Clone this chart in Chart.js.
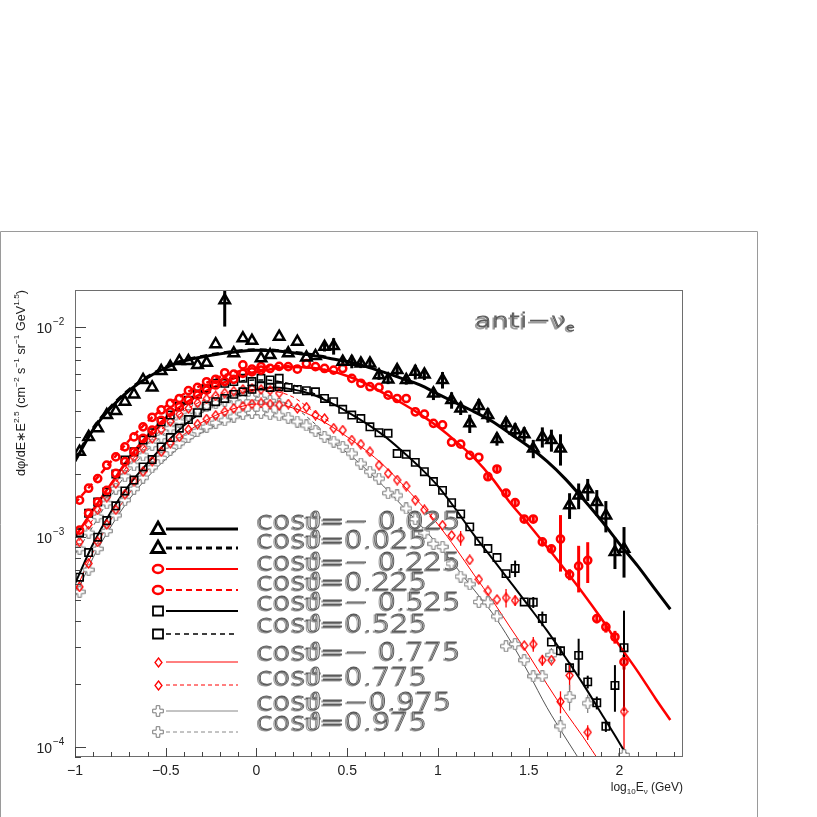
<!DOCTYPE html>
<html>
<head>
<meta charset="utf-8">
<title>anti-nu_e flux</title>
<script src="https://cdn.jsdelivr.net/npm/chart.js@4.4.1/dist/chart.umd.min.js"></script>
<style>
  html, body { margin: 0; padding: 0; background: #fff; }
  #wrap { width: 817px; height: 817px; position: relative; }
</style>
</head>
<body>
<div id="wrap"><canvas id="fluxChart"></canvas></div>
<script>
// bin centres, log10(E / GeV)
var binX = [-0.975, -0.925, -0.875, -0.825, -0.775, -0.725, -0.675, -0.625, -0.575, -0.525,
            -0.475, -0.425, -0.375, -0.325, -0.275, -0.225, -0.175, -0.125, -0.075, -0.025,
            0.025, 0.075, 0.125, 0.175, 0.225, 0.275, 0.325, 0.375, 0.425, 0.475,
            0.525, 0.575, 0.625, 0.675, 0.725, 0.775, 0.825, 0.875, 0.925, 0.975,
            1.025, 1.075, 1.125, 1.175, 1.225, 1.275, 1.325, 1.375, 1.425, 1.475,
            1.525, 1.575, 1.625, 1.675, 1.725, 1.775, 1.825, 1.875, 1.925, 1.975,
            2.025];

// dphi/dE * E^2.5 in units of 1e-3 (cm^-2 s^-1 sr^-1 GeV^1.5)
var triNeg = [2.55, 3.0, 3.3, 3.81, 3.98, 4.41, 4.78, 5.6, 5.16, 6.17,
              6.47, 6.89, 6.89, 6.6, 6.76, 8.28, 13.4, 7.5, 8.83, 8.6,
              7.1, 7.35, 9.0, 7.5, 8.51, 7.17, 7.27, 8.05, 8.12, 6.84,
              6.84, 6.71, 6.71, 5.9, 5.63, 6.24, 5.6, 6.12, 5.95, 4.83,
              5.6, 4.49, 4.1, 3.48, 4.21, 3.81, 2.93, 3.48, 3.23, 3.09,
              2.64, 3.0, 2.9, 2.64, 1.42, 1.58, 1.69, 1.47, 1.27, 0.85,
              0.88];
var triErr = [null, null, null, null, null, null, null, null, null, null,
              null, null, null, null, null, null, 0.25, null, null, null,
              null, null, null, null, null, null, null, 0.05, 0.09, 0.05,
              0.07, 0.05, 0.05, 0.05, 0.05, 0.06, 0.05, 0.08, 0.06, 0.07,
              0.09, 0.09, 0.07, 0.1, 0.08, 0.08, 0.07, 0.07, 0.08, 0.08,
              0.1, 0.11, 0.12, 0.17, 0.14, 0.14, 0.12, 0.14, 0.17, 0.17,
              0.27];

var circNeg = [1.08, 1.3, 1.47, 1.67, 2.01, 2.29, 2.55, 2.95, 3.23, 3.6,
               3.95, 4.17, 4.49, 4.74, 5.01, 5.3, 5.5, 5.64, 6.02, 6.12,
               6.24, 6.35, 6.5, 6.48, 6.3, 6.7, 6.48, 6.35, 6.24, 6.35,
               5.7, 5.4, 5.2, 5.16, 4.74, 4.57, 4.57, 3.95, 3.85, 3.48,
               3.42, 2.83, 2.77, 2.45, 2.4, 1.94, 2.11, 1.62, 1.46, 1.22,
               1.22, 0.95, 0.88, 0.98, 0.664, 0.728, 0.776, 0.41, 0.374, 0.335,
               0.255];
var circErr = [null, null, null, null, null, null, null, null, null, null,
               null, null, null, null, null, null, null, null, null, null,
               null, null, null, null, null, null, null, null, null, null,
               null, null, null, null, null, null, null, null, null, null,
               null, null, null, null, null, 0.04, 0.04, 0.04, 0.04, 0.04,
               0.04, 0.04, 0.04, 0.3, 0.06, 0.25, 0.22, 0.05, 0.06, 0.07,
               0.08];
var circPos = [1.5, 1.71, 1.9, 2.2, 2.41, 2.69, 3.0, 3.35, 3.72, 4.03,
               4.33, 4.57, 4.98, 5.16, 5.49, 5.64, 6.06, 5.97, 6.6, 6.3,
               6.48];

var sqNeg = [0.645, 0.845, 1.0, 1.2, 1.41, 1.66, 1.87, 2.16, 2.34, 2.69,
             2.98, 3.3, 3.63, 3.91, 4.21, 4.41, 4.57, 4.78, 4.92, 5.05,
             5.24, 5.16, 5.2, 5.16, 5.05, 4.98, 4.92, 4.57, 4.41, 4.06,
             3.81, 3.67, 3.35, 3.14, 3.12, 2.5, 2.48, 2.27, 2.05, 1.84,
             1.67, 1.46, 1.29, 1.12, 0.957, 0.883, 0.8, 0.671, 0.71, 0.492,
             0.49, 0.41, 0.317, 0.288, 0.239, 0.274, 0.205, 0.163, 0.126, 0.197,
             0.298];
var sqErr = [null, null, null, null, null, null, null, null, null, null,
             null, null, null, null, null, null, null, null, null, null,
             null, null, null, null, null, null, null, null, null, null,
             null, null, null, null, null, null, null, null, null, null,
             null, null, null, null, null, null, null, null, 0.09, null,
             0.06, 0.08, null, 0.05, 0.06, 0.2, 0.07, 0.07, 0.06, 0.25,
             0.5];
var sqPos = [1.05, 1.3, 1.47, 1.64, 2.0, 2.33, 2.55, 2.9, 3.14, 3.54,
             3.81, 4.21, 4.49, 4.8, 5.1, 5.4, 5.4, 5.5, 5.7, 5.5,
             5.7, 5.6, 5.7];

var dmNeg = [0.58, 0.75, 0.95, 1.15, 1.35, 1.6, 1.85, 2.05, 2.3, 2.55,
             2.8, 3.0, 3.25, 3.45, 3.65, 3.8, 3.95, 4.1, 4.2, 4.3,
             4.35, 4.3, 4.25, 4.3, 4.1, 4.15, 3.81, 3.67, 3.3, 3.23,
             2.9, 2.77, 2.55, 2.2, 2.01, 1.87, 1.75, 1.5, 1.35, 1.26,
             1.14, 1.02, 0.99, 0.78, 0.63, 0.555, 0.505, 0.515, 0.5, 0.305,
             0.31, 0.26, 0.26, 0.165, 0.22, null, 0.118, null, null, null,
             0.148];
var dmErr = [null, null, null, null, null, null, null, null, null, null,
             null, null, null, null, null, null, null, null, null, null,
             null, null, null, null, null, null, null, null, null, null,
             null, null, null, null, null, null, null, null, null, null,
             null, null, 0.08, null, null, null, null, 0.1, 0.06, null,
             0.08, 0.06, null, 0.12, 0.15, null, 0.08, null, null, null,
             0.8];
var dmPos = [0.95, 1.15, 1.35, 1.55, 1.8, 2.1, 2.4, 2.65, 2.95, 3.25,
             3.55, 3.85, 4.1, 4.35, 4.55, 4.7, 4.85, 4.95, 5.05, 5.1,
             5.05, 5.0, 4.85];

var crNeg = [0.55, 0.7, 0.88, 1.07, 1.27, 1.5, 1.7, 1.92, 2.15, 2.38,
             2.6, 2.8, 3.0, 3.2, 3.35, 3.5, 3.6, 3.75, 3.85, 3.9,
             3.9, 3.85, 3.8, 3.7, 3.55, 3.4, 3.2, 3.0, 2.85, 2.69,
             2.5, 2.24, 2.05, 1.9, 1.62, 1.58, 1.37, 1.22, 1.05, 0.93,
             0.9, 0.75, 0.65, 0.597, 0.492, 0.49, 0.42, 0.303, 0.31, 0.26,
             0.218, 0.218, 0.275, 0.126, 0.174, null, 0.162, null, null, null,
             0.092];
var crErr = [null, null, null, null, null, null, null, null, null, null,
             null, null, null, null, null, null, null, null, null, null,
             null, null, null, null, null, null, null, null, null, null,
             null, null, null, null, null, null, null, null, null, null,
             null, null, null, null, null, null, null, null, null, null,
             null, 0.05, 0.08, 0.12, 0.14, null, 0.1, null, null, null,
             null];
var crPos = [0.88, 1.05, 1.25, 1.45, 1.7, 1.95, 2.2, 2.45, 2.75, 3.0,
             3.3, 3.55, 3.8, 4.0, 4.2, 4.35, 4.45, 4.55, 4.6, 4.6,
             4.55, 4.45, 4.3];

// fitted curves, same units
var fitX = [-1.0, -0.9, -0.8, -0.7, -0.6, -0.5, -0.4, -0.3, -0.2, -0.1,
            0.0, 0.1, 0.2, 0.3, 0.4, 0.5, 0.6, 0.7, 0.8, 0.9,
            1.0, 1.1, 1.2, 1.3, 1.4, 1.5, 1.6, 1.7, 1.8, 1.9,
            2.0, 2.1, 2.2, 2.28];
var fitTriNeg = [2.3, 3.25, 4.15, 5.0, 5.75, 6.4, 6.9, 7.2, 7.45, 7.65,
                 7.75, 7.7, 7.55, 7.35, 7.1, 6.85, 6.5, 6.1, 5.7, 5.3,
                 4.8, 4.35, 3.95, 3.55, 3.1, 2.7, 2.3, 1.9, 1.52, 1.2,
                 0.93, 0.73, 0.56, 0.454];
var fitTriPos = [2.35, 3.3, 4.2, 5.05, 5.8, 6.45, 6.95, 7.25, 7.5, 7.7,
                 7.8, 7.75, 7.6, 7.4, 7.15];
var fitCircNeg = [1.0, 1.35, 1.8, 2.4, 3.05, 3.7, 4.3, 4.85, 5.35, 5.8,
                  6.1, 6.35, 6.45, 6.4, 6.2, 5.85, 5.4, 4.85, 4.35, 3.85,
                  3.35, 2.85, 2.38, 1.9, 1.45, 1.15, 0.9, 0.7, 0.54, 0.41,
                  0.305, 0.23, 0.17, 0.135];
var fitCircPos = [1.45, 1.82, 2.3, 2.9, 3.55, 4.2, 4.8, 5.3, 5.8, 6.15,
                  6.4, 6.5, 6.5, 6.4, 6.2];
var fitSqNeg = [0.6, 0.93, 1.33, 1.78, 2.25, 2.8, 3.4, 3.95, 4.45, 4.8,
                5.05, 5.15, 5.05, 4.8, 4.4, 3.95, 3.5, 3.05, 2.58, 2.15,
                1.75, 1.35, 1.02, 0.79, 0.61, 0.47, 0.36, 0.27, 0.2, 0.145,
                0.105, 0.075];
var fitSqPos = [1.0, 1.35, 1.8, 2.35, 2.95, 3.6, 4.25, 4.8, 5.25, 5.5,
                5.6, 5.55, 5.3, 4.9, 4.45];
var fitDmNeg = [0.55, 0.85, 1.22, 1.62, 2.08, 2.58, 3.08, 3.52, 3.88, 4.15,
                4.3, 4.3, 4.12, 3.8, 3.42, 3.0, 2.6, 2.2, 1.8, 1.45,
                1.15, 0.88, 0.66, 0.5, 0.37, 0.275, 0.2, 0.148, 0.112, 0.083,
                0.062];
var fitDmPos = [0.9, 1.22, 1.68, 2.25, 2.8, 3.4, 3.98, 4.45, 4.8, 5.0,
                5.05, 4.95, 4.65, 4.05, 3.55];
var fitCrNeg = [0.52, 0.8, 1.13, 1.52, 1.93, 2.35, 2.78, 3.15, 3.48, 3.72,
                3.85, 3.82, 3.6, 3.25, 2.9, 2.52, 2.12, 1.75, 1.42, 1.15,
                0.92, 0.72, 0.56, 0.435, 0.32, 0.225, 0.155, 0.112, 0.082, 0.06];
var fitCrPos = [0.83, 1.13, 1.58, 2.08, 2.6, 3.15, 3.68, 4.1, 4.4, 4.58,
                4.6, 4.5, 4.2, 3.6, 3.0];

var yDecades = [-2, -3, -4];
var legendLabels = ['cos\u03d1=\u2212 0.025', 'cos\u03d1=0.025', 'cos\u03d1=\u2212 0.225', 'cos\u03d1=0.225',
                    'cos\u03d1=\u2212 0.525', 'cos\u03d1=0.525', 'cos\u03d1=\u2212 0.775', 'cos\u03d1=0.775',
                    'cos\u03d1=\u22120.975', 'cos\u03d1=0.975'];

var RED = '#ff0000', GREYM = '#7a7a7a', GREYL = '#555555';

document.addEventListener('DOMContentLoaded', function() {
  initializeChart();
});

function toPoints(xs, vals, errs) {
  var out = [];
  for (var i = 0; i < xs.length; i++) {
    if (vals[i] == null) continue;
    out.push({ x: xs[i], y: vals[i] * 1e-3, e: errs ? errs[i] : null });
  }
  return out;
}

function makeMarker(kind, color) {
  var c = document.createElement('canvas');
  var g;
  if (kind === 'diamond') {
    c.width = 9; c.height = 11;
    g = c.getContext('2d');
    g.strokeStyle = color; g.lineWidth = 1.3;
    g.beginPath();
    g.moveTo(4.5, 1); g.lineTo(8, 5.5); g.lineTo(4.5, 10); g.lineTo(1, 5.5);
    g.closePath(); g.stroke();
  } else {
    c.width = 12; c.height = 12;
    g = c.getContext('2d');
    var a = 6, w = 1.8, L = 5.3;
    var p = [[-w, -L], [w, -L], [w, -w], [L, -w], [L, w], [w, w], [w, L], [-w, L], [-w, w], [-L, w], [-L, -w], [-w, -w]];
    g.beginPath();
    p.forEach(function(q, i) {
      if (i === 0) g.moveTo(a + q[0], a + q[1]); else g.lineTo(a + q[0], a + q[1]);
    });
    g.closePath();
    g.fillStyle = '#fff'; g.fill();
    g.strokeStyle = color; g.lineWidth = 1; g.stroke();
  }
  return c;
}

function initializeChart() {
  var diamondImg = makeMarker('diamond', RED);
  var crossImg = makeMarker('cross', GREYM);

  var markerDefs = [
    { vals: triNeg, errs: triErr, style: 'triangle', r: 6, bw: 2.5, color: '#000', ew: 3 },
    { vals: circNeg, errs: circErr, style: 'circle', r: 3.6, bw: 2.5, color: RED, ew: 3 },
    { vals: circPos, style: 'circle', r: 3.6, bw: 2.5, color: RED, ew: 3 },
    { vals: sqNeg, errs: sqErr, style: 'rect', r: 5.2, bw: 1.6, color: '#000', ew: 2 },
    { vals: sqPos, style: 'rect', r: 5.2, bw: 1.6, color: '#000', ew: 2 },
    { vals: dmNeg, errs: dmErr, style: diamondImg, r: 4, bw: 1, color: RED, ew: 1.3 },
    { vals: dmPos, style: diamondImg, r: 4, bw: 1, color: RED, ew: 1.3 },
    { vals: crNeg, errs: crErr, style: crossImg, r: 5, bw: 1, color: GREYM, ew: 1.2 },
    { vals: crPos, style: crossImg, r: 5, bw: 1, color: GREYM, ew: 1.2 }
  ];
  var lineDefs = [
    { vals: fitTriNeg, color: '#000', w: 3, dash: [] },
    { vals: fitTriPos, color: '#000', w: 3, dash: [7, 5] },
    { vals: fitCircNeg, color: RED, w: 2.5, dash: [] },
    { vals: fitCircPos, color: RED, w: 2.5, dash: [6, 4] },
    { vals: fitSqNeg, color: '#000', w: 2, dash: [] },
    { vals: fitSqPos, color: '#000', w: 1.5, dash: [5, 4] },
    { vals: fitDmNeg, color: RED, w: 1, dash: [] },
    { vals: fitDmPos, color: RED, w: 1, dash: [4, 3] },
    { vals: fitCrNeg, color: GREYL, w: 1, dash: [] },
    { vals: fitCrPos, color: GREYL, w: 1, dash: [4, 3] }
  ];

  var datasets = [];
  markerDefs.forEach(function(m) {
    datasets.push({
      data: toPoints(binX, m.vals, m.errs),
      showLine: false,
      pointStyle: m.style,
      pointRadius: m.r,
      pointBorderWidth: m.bw,
      borderColor: m.color,
      backgroundColor: 'rgba(0,0,0,0)',
      pointBackgroundColor: 'rgba(0,0,0,0)',
      errColor: m.color,
      errWidth: m.ew,
      order: 0
    });
  });
  lineDefs.forEach(function(l) {
    datasets.push({
      data: toPoints(fitX, l.vals),
      showLine: true,
      pointRadius: 0,
      borderColor: l.color,
      borderWidth: l.w,
      borderDash: l.dash,
      cubicInterpolationMode: 'monotone',
      fill: false,
      order: 1
    });
  });

  var legendRows = [
    { mk: 'triangle', color: '#000', lw: 3, dash: [], y: 529, ty: 522 },
    { mk: 'triangle', color: '#000', lw: 3, dash: [6, 4], y: 548, ty: 541 },
    { mk: 'circle', color: RED, lw: 2, dash: [], y: 569, ty: 563 },
    { mk: 'circle', color: RED, lw: 2, dash: [6, 4], y: 590, ty: 583 },
    { mk: 'rect', color: '#000', lw: 2, dash: [], y: 611, ty: 603 },
    { mk: 'rect', color: '#000', lw: 1.5, dash: [5, 4], y: 634, ty: 625 },
    { mk: diamondImg, color: RED, lw: 1, dash: [], y: 662, ty: 653 },
    { mk: diamondImg, color: RED, lw: 1, dash: [4, 3], y: 685, ty: 678 },
    { mk: crossImg, color: '#888', lw: 1, dash: [], y: 711, ty: 703 },
    { mk: crossImg, color: '#888', lw: 1, dash: [4, 3], y: 732, ty: 723 }
  ];

  var ctx = document.getElementById('fluxChart').getContext('2d');
  new Chart(ctx, {
    type: 'scatter',
    data: { datasets: datasets },
    options: {
      responsive: true,
      maintainAspectRatio: false,
      animation: false,
      devicePixelRatio: 1,
      layout: { padding: { left: 75, right: 134, top: 290, bottom: 0 } },
      plugins: { legend: { display: false }, tooltip: { enabled: false } },
      scales: {
        x: {
          type: 'linear', min: -1, max: 2.35,
          afterFit: function(s) { s.height = 60; },
          grid: { display: false, drawTicks: false },
          border: { display: false },
          ticks: {
            stepSize: 0.5, includeBounds: false, autoSkip: false, maxRotation: 0, padding: 6,
            color: '#222', font: { family: 'Liberation Sans', size: 14 },
            callback: function(v) { return v === 0 ? '0' : (v < 0 ? '\u2212' : '') + Math.abs(v); }
          }
        },
        y: { type: 'logarithmic', min: 9e-5, max: 1.5e-2, display: false }
      }
    },
    plugins: [rootStyle(legendRows)]
  });
}

// hollow grey lettering with a soft drop shadow
function fancyText(ctx, str, x, y, size, sx) {
  ctx.save();
  ctx.translate(x, y);
  ctx.scale(sx, 1);
  ctx.font = '200 ' + size + 'px "DejaVu Sans"';
  ctx.textBaseline = 'middle';
  ctx.textAlign = 'left';
  ctx.lineWidth = 0.9;
  ctx.strokeStyle = '#9c9c9c';
  ctx.strokeText(str, -1.3, 1.6);
  ctx.fillStyle = '#e6e6e6';
  ctx.fillText(str, 0, 0);
  ctx.strokeStyle = '#5a5a5a';
  ctx.lineWidth = 0.8;
  ctx.strokeText(str, 0, 0);
  ctx.restore();
}

function drawLegendMarker(ctx, mk, color, x, y) {
  if (typeof mk !== 'string') {
    ctx.drawImage(mk, Math.round(x - mk.width / 2), Math.round(y - mk.height / 2));
    return;
  }
  ctx.save();
  ctx.strokeStyle = color;
  ctx.setLineDash([]);
  ctx.beginPath();
  if (mk === 'triangle') {
    ctx.lineWidth = 2.8;
    ctx.moveTo(x, y - 7); ctx.lineTo(x + 6.5, y + 4.5); ctx.lineTo(x - 6.5, y + 4.5); ctx.closePath();
  } else if (mk === 'circle') {
    ctx.lineWidth = 2.6;
    ctx.ellipse(x, y, 5, 4, 0, 0, Math.PI * 2);
  } else {
    ctx.lineWidth = 1.8;
    ctx.rect(x - 5, y - 4.5, 10, 9);
  }
  ctx.stroke();
  ctx.restore();
}

function rootStyle(legendRows) {
  return {
    id: 'rootStyle',
    beforeDraw: function(chart) {
      var c = chart.ctx;
      c.save();
      c.fillStyle = '#fff';
      c.fillRect(0, 0, chart.width, chart.height);
      c.strokeStyle = '#9a9a9a';
      c.lineWidth = 1;
      c.beginPath();
      c.moveTo(0.5, 817); c.lineTo(0.5, 231.5); c.lineTo(757.5, 231.5); c.lineTo(757.5, 817);
      c.stroke();
      c.restore();
    },
    beforeDatasetsDraw: function(chart) {
      var c = chart.ctx, a = chart.chartArea;
      var xs = chart.scales.x, ys = chart.scales.y;
      c.save();
      c.beginPath();
      c.rect(a.left, a.top, a.right - a.left, a.bottom - a.top);
      c.clip();
      chart.data.datasets.forEach(function(ds) {
        if (!ds.errWidth) return;
        c.strokeStyle = ds.errColor;
        c.lineWidth = ds.errWidth;
        ds.data.forEach(function(p) {
          if (!p.e) return;
          var px = xs.getPixelForValue(p.x);
          var hi = ys.getPixelForValue(p.y * (1 + p.e));
          var lo = p.e >= 0.95 ? a.bottom + 5 : ys.getPixelForValue(p.y * (1 - p.e));
          c.beginPath();
          c.moveTo(px, hi); c.lineTo(px, lo);
          c.stroke();
        });
      });
      c.restore();
    },
    afterDraw: function(chart) {
      var c = chart.ctx, a = chart.chartArea;
      var xs = chart.scales.x, ys = chart.scales.y;
      c.save();
      // frame
      c.strokeStyle = '#6e6e6e';
      c.lineWidth = 1;
      c.strokeRect(a.left + 0.5, a.top + 0.5, a.right - a.left - 1, a.bottom - a.top - 1);
      // x ticks, inward
      c.strokeStyle = '#444';
      for (var t = -10; t <= 23; t++) {
        var px = Math.round(xs.getPixelForValue(t / 10)) + 0.5;
        var len = (t % 5 === 0) ? 9 : 5;
        c.beginPath(); c.moveTo(px, a.bottom); c.lineTo(px, a.bottom - len); c.stroke();
      }
      // y ticks, inward on the left
      for (var d = -5; d <= -2; d++) {
        for (var m = 1; m <= 9; m++) {
          var v = m * Math.pow(10, d);
          if (v < ys.min || v > ys.max) continue;
          var py = Math.round(ys.getPixelForValue(v)) + 0.5;
          c.beginPath(); c.moveTo(a.left, py); c.lineTo(a.left + (m === 1 ? 11 : 6), py); c.stroke();
        }
      }
      // y tick labels 10^n
      c.fillStyle = '#222';
      c.textBaseline = 'alphabetic';
      yDecades.forEach(function(n) {
        var py = ys.getPixelForValue(Math.pow(10, n));
        c.font = '14px "Liberation Sans"';
        c.textAlign = 'right';
        c.fillText('10', 52, py + 6);
        c.font = '10px "Liberation Sans"';
        c.textAlign = 'left';
        c.fillText('\u2212' + Math.abs(n), 53, py - 2);
      });
      // y title, rotated
      var parts = [['d\u03c6/dE\u2217E', 0], ['2.5', 1], [' (cm', 0], ['\u22122', 1], [' s', 0], ['\u22121', 1],
                   [' sr', 0], ['\u22121', 1], [' GeV', 0], ['1.5', 1], [')', 0]];
      c.save();
      c.translate(25, 476);
      c.rotate(-Math.PI / 2);
      var tot = 0;
      parts.forEach(function(p) {
        c.font = p[1] ? '8px "Liberation Sans"' : '12px "Liberation Sans"';
        tot += c.measureText(p[0]).width;
      });
      c.scale(186 / tot, 1);
      var cx = 0;
      parts.forEach(function(p) {
        c.font = p[1] ? '8px "Liberation Sans"' : '12px "Liberation Sans"';
        c.textAlign = 'left';
        c.fillText(p[0], cx, p[1] ? -6 : 0);
        cx += c.measureText(p[0]).width;
      });
      c.restore();
      // x title
      var xp = [['log', 0, 0], ['10', 1, 3], ['E', 0, 0], ['\u03bd', 1, 3], [' (GeV)', 0, 0]];
      var w = 0;
      xp.forEach(function(p) {
        c.font = p[1] ? '8px "Liberation Sans"' : '12px "Liberation Sans"';
        w += c.measureText(p[0]).width;
      });
      var xx = a.right - w;
      c.textAlign = 'left';
      xp.forEach(function(p) {
        c.font = p[1] ? '8px "Liberation Sans"' : '12px "Liberation Sans"';
        c.fillText(p[0], xx, 791 + p[2]);
        xx += c.measureText(p[0]).width;
      });
      // title anti-nu_e
      c.font = '200 20px "DejaVu Sans"';
      var tw = c.measureText('anti\u2212\u03bd').width;
      fancyText(c, 'anti\u2212\u03bd', 475, 322, 20, 91 / tw);
      fancyText(c, 'e', 475 + 91, 328, 11, 1.3);
      // legend
      c.font = '200 25px "DejaVu Sans"';
      var sx = 204 / c.measureText(legendLabels[0]).width;
      legendRows.forEach(function(r, i) {
        c.save();
        c.strokeStyle = r.color;
        c.lineWidth = r.lw;
        c.setLineDash(r.dash);
        c.beginPath();
        c.moveTo(166, r.y); c.lineTo(238, r.y);
        c.stroke();
        c.restore();
        drawLegendMarker(c, r.mk, r.color, 158, r.y);
        fancyText(c, legendLabels[i], 257, r.ty, 25, sx);
      });
      c.restore();
    }
  };
}
</script>
</body>
</html>
